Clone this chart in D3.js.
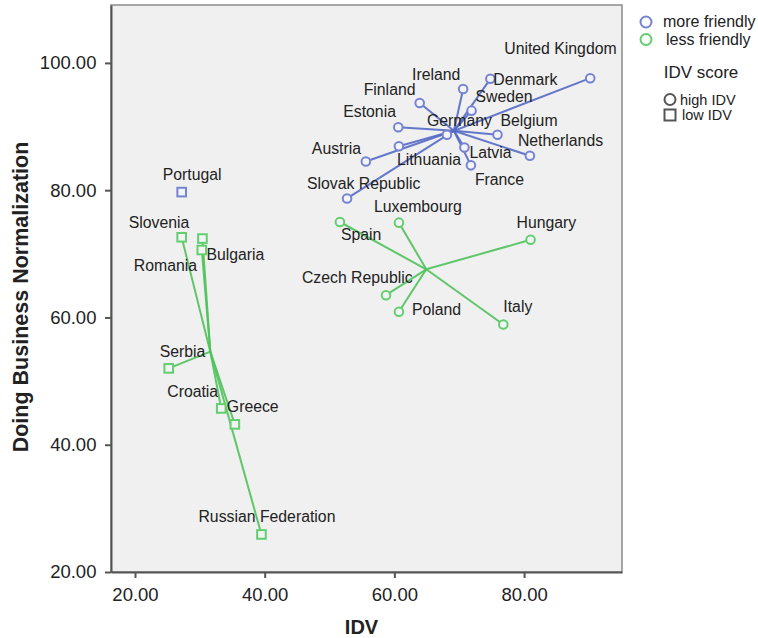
<!DOCTYPE html>
<html>
<head>
<meta charset="utf-8">
<script src="https://cdn.jsdelivr.net/npm/d3@7"></script>
<style>
  body { margin: 0; background: #fff; }
  text { font-family: "Liberation Sans", Arial, Helvetica, sans-serif; fill: #222; }
</style>
</head>
<body>
<div id="chart"></div>
<script>
// values
var countries = ["United Kingdom", "Denmark", "Ireland", "Sweden", "Finland", "Estonia", "Germany",
  "Belgium", "Lithuania", "Latvia", "Netherlands", "Austria", "France", "Slovak Republic",
  "Portugal",
  "Spain", "Luxembourg", "Hungary", "Czech Republic", "Poland", "Italy",
  "Slovenia", "Bulgaria", "Romania", "Serbia", "Croatia", "Greece", "Russian Federation"];
var idv = [90.2, 74.8, 70.6, 71.9, 63.9, 60.6, 68.1,
  75.9, 60.7, 70.8, 80.9, 55.6, 71.8, 52.7,
  27.2,
  51.6, 60.7, 81.0, 58.7, 60.7, 76.8,
  27.2, 30.4, 30.3, 25.2, 33.3, 35.4, 39.5];
var dbn = [97.6, 97.5, 95.9, 92.5, 93.7, 89.9, 88.7,
  88.7, 86.9, 86.7, 85.4, 84.5, 83.9, 78.7,
  79.7,
  75.0, 74.9, 72.2, 63.5, 60.9, 58.9,
  72.6, 72.4, 70.6, 52.0, 45.7, 43.2, 25.9];
var friendly = ["more", "more", "more", "more", "more", "more", "more",
  "more", "more", "more", "more", "more", "more", "more",
  "more",
  "less", "less", "less", "less", "less", "less",
  "less", "less", "less", "less", "less", "less", "less"];
var idvGroup = ["high", "high", "high", "high", "high", "high", "high",
  "high", "high", "high", "high", "high", "high", "high",
  "low",
  "high", "high", "high", "high", "high", "high",
  "low", "low", "low", "low", "low", "low", "low"];

var xTicks = [20, 40, 60, 80];
var yTicks = [20, 40, 60, 80, 100];

// label placement (pixels from the point, text start / baseline)
var labelOff = {
  "United Kingdom": [-86, -24], "Denmark": [3, 6], "Ireland": [-51, -9], "Sweden": [4, -9],
  "Finland": [-56, -8], "Estonia": [-55, -10], "Germany": [-20, -9], "Belgium": [3, -9],
  "Netherlands": [-12, -10], "Austria": [-54, -8], "Lithuania": [-2, 19], "Latvia": [5, 10],
  "France": [4, 20], "Slovak Republic": [-40, -9], "Portugal": [-19, -12],
  "Slovenia": [-53, -9], "Bulgaria": [4, 21], "Romania": [-68, 21], "Serbia": [-9, -11],
  "Croatia": [-54, -11], "Greece": [-8, -12], "Russian Federation": [-63, -12],
  "Luxembourg": [-25, -11], "Spain": [1, 18], "Hungary": [-14, -12],
  "Czech Republic": [-84, -12], "Poland": [13, 3], "Italy": [0, -12]
};

var colors = { more: "#7483d2", less: "#62cf6e" };
var lineColors = { more: "#5469c6", less: "#4fc25a" };

var W = 758, H = 638;
var pL = 111, pR = 622, pT = 5, pB = 572;

var svg = d3.select("#chart").append("svg")
  .attr("width", W)
  .attr("height", H);

var x = d3.scaleLinear().domain([16.3, 95.1]).range([pL, pR]);
var y = d3.scaleLinear().domain([20, 109.1]).range([pB, pT]);

svg.append("rect")
  .attr("x", pL).attr("y", pT)
  .attr("width", pR - pL).attr("height", pB - pT)
  .attr("fill", "#f0f0f0")
  .attr("stroke", "#8a8a8a")
  .attr("stroke-width", 1.5);

var pts = countries.map(function(c, i) {
  return { name: c, x: idv[i], y: dbn[i], f: friendly[i], g: idvGroup[i] };
});

// group centroids
var groups = d3.group(pts, function(d) { return d.f + "|" + d.g; });
var cent = {};
groups.forEach(function(arr, k) {
  cent[k] = [d3.mean(arr, function(d) { return d.x; }), d3.mean(arr, function(d) { return d.y; })];
});

svg.append("g").selectAll("line")
  .data(pts)
  .enter().append("line")
  .attr("x1", function(d) { return x(d.x); })
  .attr("y1", function(d) { return y(d.y); })
  .attr("x2", function(d) { return x(cent[d.f + "|" + d.g][0]); })
  .attr("y2", function(d) { return y(cent[d.f + "|" + d.g][1]); })
  .attr("stroke", function(d) { return lineColors[d.f]; })
  .attr("stroke-width", 2)
  .attr("stroke-opacity", 0.9);

var mk = svg.append("g").selectAll("g")
  .data(pts)
  .enter().append("g")
  .attr("transform", function(d) { return "translate(" + x(d.x) + "," + y(d.y) + ")"; });

mk.filter(function(d) { return d.g == "high"; }).append("circle")
  .attr("r", 4.3)
  .attr("fill", "#f4f4f8")
  .attr("stroke", function(d) { return colors[d.f]; })
  .attr("stroke-width", 2);

mk.filter(function(d) { return d.g == "low"; }).append("rect")
  .attr("x", -4.3).attr("y", -4.3)
  .attr("width", 8.6).attr("height", 8.6)
  .attr("fill", "#f4f4f8")
  .attr("stroke", function(d) { return colors[d.f]; })
  .attr("stroke-width", 2);

svg.append("g").selectAll("text")
  .data(pts)
  .enter().append("text")
  .attr("x", function(d) { return x(d.x) + labelOff[d.name][0]; })
  .attr("y", function(d) { return y(d.y) + labelOff[d.name][1]; })
  .attr("font-size", 15.8)
  .text(function(d) { return d.name; });

// axes
var xAxis = svg.append("g")
  .attr("transform", "translate(0," + pB + ")")
  .call(d3.axisBottom(x).tickValues(xTicks).tickFormat(d3.format(".2f")).tickSize(6).tickSizeOuter(0));
var yAxis = svg.append("g")
  .attr("transform", "translate(" + pL + ",0)")
  .call(d3.axisLeft(y).tickValues(yTicks).tickFormat(d3.format(".2f")).tickSize(6).tickSizeOuter(0));

[xAxis, yAxis].forEach(function(a) {
  a.select(".domain").attr("stroke", "#555").attr("stroke-width", 2);
  a.selectAll(".tick line").attr("stroke", "#555").attr("stroke-width", 2);
  a.selectAll(".tick text").attr("font-size", 18.5).attr("fill", "#222")
    .attr("font-family", "Liberation Sans, Arial, sans-serif");
});
xAxis.selectAll(".tick text").attr("dy", "1.1em");
yAxis.selectAll(".tick text").attr("dx", "-0.3em");

svg.append("text")
  .attr("x", (pL + pR) / 2 - 5)
  .attr("y", 634)
  .attr("text-anchor", "middle")
  .attr("font-weight", "bold")
  .attr("font-size", 20)
  .text("IDV");

svg.append("text")
  .attr("transform", "translate(28," + 297 + ") rotate(-90)")
  .attr("text-anchor", "middle")
  .attr("font-weight", "bold")
  .attr("font-size", 21.5)
  .text("Doing Business Normalization");

// legend
var lg = svg.append("g");
var fItems = [["more", "more friendly"], ["less", "less friendly"]];
fItems.forEach(function(it, i) {
  lg.append("circle")
    .attr("cx", 646).attr("cy", 22 + i * 17.5)
    .attr("r", 5.5)
    .attr("fill", "none")
    .attr("stroke", colors[it[0]])
    .attr("stroke-width", 2);
  lg.append("text")
    .attr("x", 663 + i * 3).attr("y", 27 + i * 17.5)
    .attr("font-size", 16)
    .text(it[1]);
});
lg.append("text")
  .attr("x", 701).attr("y", 78)
  .attr("text-anchor", "middle")
  .attr("font-size", 17)
  .text("IDV score");
lg.append("circle")
  .attr("cx", 670).attr("cy", 99.5)
  .attr("r", 5.5)
  .attr("fill", "none")
  .attr("stroke", "#555")
  .attr("stroke-width", 2);
lg.append("rect")
  .attr("x", 664.5).attr("y", 109.5)
  .attr("width", 11).attr("height", 11)
  .attr("fill", "none")
  .attr("stroke", "#555")
  .attr("stroke-width", 2);
lg.append("text").attr("x", 680).attr("y", 104.5).attr("font-size", 14.5).text("high IDV");
lg.append("text").attr("x", 682).attr("y", 120).attr("font-size", 14.5).text("low IDV");
</script>
</body>
</html>
